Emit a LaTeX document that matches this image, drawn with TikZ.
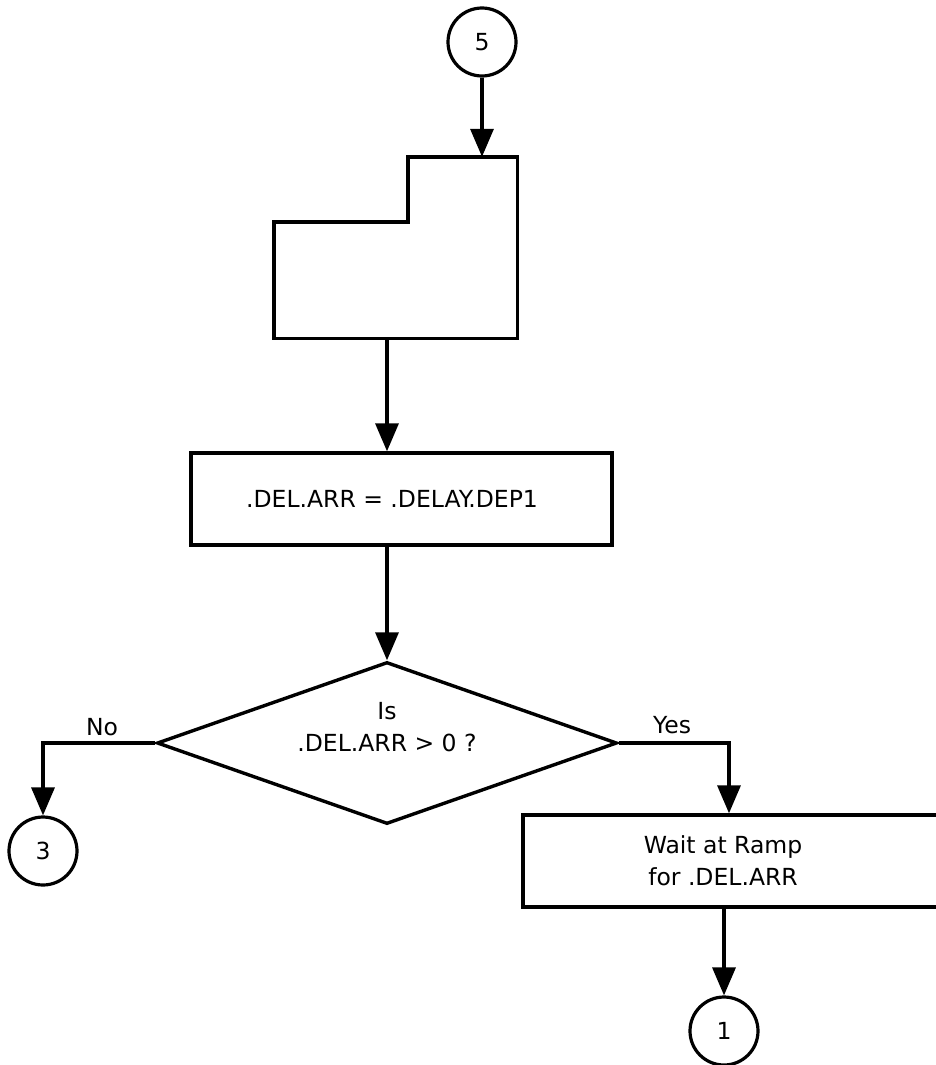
\documentclass[tikz,border=0pt]{standalone}
\usepackage{fontspec}
\setmainfont{DejaVu Sans}
\usetikzlibrary{shapes.geometric,arrows.meta}
\begin{document}
\begin{tikzpicture}[x=1pt,y=-1pt,
  every node/.style={font=\fontsize{23.5}{32}\selectfont},
  ln/.style={line width=3.4pt},
  conn/.style={ln,-{Triangle[length=28pt,width=23pt]}},
  conncirc/.style={draw,circle,line width=3.2pt,minimum size=68pt,inner sep=0pt},
  boxstyle/.style={draw,rectangle,line width=3.4pt,inner sep=0pt},
  txt/.style={align=center,inner sep=0pt}]
\useasboundingbox (0,0) rectangle (936,1065);
% connectors (circles)
\node[conncirc] (c5) at (482,42) {5};
\node[conncirc] (c3) at (43,851) {3};
\node[conncirc] (c1) at (724,1031) {1};
% notched box (invisible frame + outline)
\node[rectangle,minimum width=243pt,minimum height=181pt,inner sep=0pt] (nb) at (395.5,247.5) {};
\coordinate (nstep) at (408,222);
\draw[ln,line join=miter] (nb.south west) -- (nb.west |- nstep) -- (nstep) -- (nstep |- nb.north) -- (nb.north east) -- (nb.south east) -- cycle;
% process box
\node[boxstyle,minimum width=421pt,minimum height=92pt] (p1) at (401.5,499) {};
\node[txt] (p1t) at (392,499) {.DEL.ARR = .DELAY.DEP1};
% decision
\node[draw,diamond,line width=3.4pt,minimum width=460pt,minimum height=162pt,inner sep=0pt] (d) at (387,743) {};
\node[txt] (dt) at (387,727) {Is\\.DEL.ARR > 0 ?};
% wait box
\node[boxstyle,minimum width=430pt,minimum height=92pt] (w) at (738,861) {};
\node[txt] (wt) at (723,861) {Wait at Ramp\\for .DEL.ARR};
% arrows
\draw[conn] (c5) -- (c5 |- nb.north);
\draw[conn] (d.north |- nb.south) -- (d.north |- p1.north);
\draw[conn] (d.north |- p1.south) -- (d.north);
\coordinate (nocorner) at (c3.north |- d.west);
\coordinate (yescorner) at (729,743);
\draw[conn] (d.west) -- (nocorner) -- (c3.north);
\draw[conn] (d.east) -- (yescorner) -- (yescorner |- w.north);
\draw[conn] (c1 |- w.south) -- (c1.north);
% labels
\node[inner sep=0pt] (nolab) at (102,727) {No};
\node[inner sep=0pt] (yeslab) at (672,725) {Yes};
\end{tikzpicture}
\end{document}
